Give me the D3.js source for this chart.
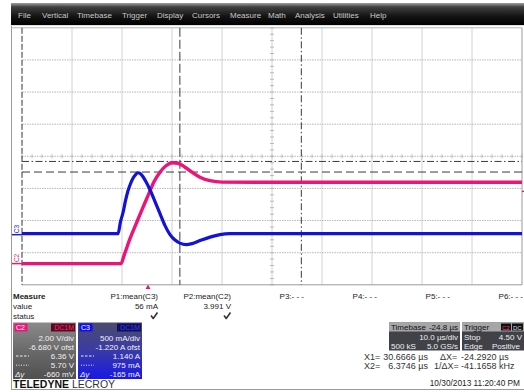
<!DOCTYPE html>
<html><head><meta charset="utf-8">
<script src="https://cdn.jsdelivr.net/npm/d3@7"></script>
<style>
body{margin:0;background:#fff;}
svg{display:block;font-family:"Liberation Sans",Arial,sans-serif;}
</style></head><body>
<svg id="scope" width="524" height="392"></svg>
<script>
// ---- acquisition data ----
// C3: current probe, amps, vs time in µs relative to trigger
const c3Time = [-25.2,-6.0,-5.5,-5.0,-4.5,-4.0,-3.5,-3.0,-2.5,-2.0,-1.5,-1.0,-0.4,0.4,1.4,2.4,3.4,4.4,5.4,6.4,7.6,8.8,10.4,12.4,14.4,16.4,74.8];
const c3Amps = [0.015,0.015,0.203,0.343,0.529,0.684,0.793,0.878,0.933,0.964,0.948,0.902,0.824,0.70,0.514,0.327,0.141,0.001,-0.084,-0.131,-0.154,-0.139,-0.092,-0.038,0.001,0.015,0.015];
// C2: output voltage, volts
const c2Time = [-25.2,-5.4,-4.8,-3.6,-2.4,-1.2,0,1.2,2.4,3.6,4.8,6.0,7.4,8.8,10.4,12.4,14.8,74.8];
const c2Volts = [0,0,0.50,1.56,2.46,3.36,4.23,5.10,5.69,6.09,6.28,6.25,6.00,5.69,5.38,5.16,5.07,5.06];

// ---- instrument settings ----
const timeDelay = -24.8;          // µs, trigger delay
const timePerDiv = 10;            // µs/div
const c2Setup = [2.0, -6.68];     // V/div, offset V
const c3Setup = [0.5, -1.22];     // A/div, offset A
const triggerLevel = 4.5;         // V on C2
const cursorTimes = [30.6666, 6.3746];   // X1, X2 in µs
const c2Cursors = [6.36, 5.70];
const c3Cursors = [1.140, 0.975];

// ---- text content ----
const menuItems = ["File","Vertical","Timebase","Trigger","Display","Cursors","Measure","Math","Analysis","Utilities","Help"];
const menuX = [18,42,77,122,157,192,230,268,295,333,370];
const paramNames = ["P1:mean(C3)","P2:mean(C2)","P3:- - -","P4:- - -","P5:- - -","P6:- - -"];
const paramValues = ["56 mA","3.991 V","","","",""];
const paramOk = [true,true,false,false,false,false];
const c2Readout = ["2.00 V/div","-6.680 V ofst","6.36 V","5.70 V","-660 mV"];
const c3Readout = ["500 mA/div","-1.220 A ofst","1.140 A","975 mA","-165 mA"];

const svg = d3.select("#scope");
const defs = svg.append("defs");

// ---- geometry / scales ----
const plotL = 22, plotR = 522, plotT = 27.8, plotB = 284.8;
const midY = (plotT + plotB) / 2;
const divH = (plotB - plotT) / 8;
const x = d3.scaleLinear()
  .domain([-timeDelay - 5*timePerDiv, -timeDelay + 5*timePerDiv])
  .range([plotL, plotR]);
function vScale(setup){
  const c = -setup[1];
  return d3.scaleLinear().domain([c - 4*setup[0], c + 4*setup[0]]).range([plotB, plotT]);
}
const yV = vScale(c2Setup);
const yA = vScale(c3Setup);

// ---- menu bar ----
const mg = defs.append("linearGradient").attr("id","menuG").attr("x1",0).attr("y1",0).attr("x2",0).attr("y2",1);
mg.append("stop").attr("offset",0).attr("stop-color","#a0a0a0");
mg.append("stop").attr("offset",0.18).attr("stop-color","#404040");
mg.append("stop").attr("offset",0.6).attr("stop-color","#141414");
mg.append("stop").attr("offset",1).attr("stop-color","#000");
svg.append("rect").attr("x",11).attr("y",3).attr("width",513).attr("height",22).attr("fill","url(#menuG)");
svg.append("g").selectAll("text").data(menuItems).join("text")
  .attr("x",(d,i)=>menuX[i]).attr("y",17.5).attr("font-size",8).attr("fill","#c8c8c8").text(d=>d);

// ---- frame ----
svg.append("line").attr("x1",11.5).attr("x2",11.5).attr("y1",25).attr("y2",389.5).attr("stroke","#9a9a9a");
svg.append("line").attr("x1",11).attr("x2",524).attr("y1",389.5).attr("y2",389.5).attr("stroke","#9a9a9a");
svg.append("line").attr("x1",11).attr("x2",524).attr("y1",25.5).attr("y2",25.5).attr("stroke","#e0e0e0");
svg.append("line").attr("x1",11).attr("x2",plotR).attr("y1",plotT).attr("y2",plotT).attr("stroke","#b4b4b4");

// ---- graticule ----
const grid = svg.append("g");
const vDivs = d3.range(1,10).map(i => x.domain()[0] + i*timePerDiv);
grid.selectAll(".vg").data(vDivs).join("line")
  .attr("x1",d=>x(d)).attr("x2",d=>x(d)).attr("y1",plotT).attr("y2",plotB)
  .attr("stroke","#d2d2d2").attr("stroke-width",1);
const hDivs = d3.range(1,8).map(i => yV.domain()[0] + i*c2Setup[0]);
grid.selectAll(".hg").data(hDivs).join("line")
  .attr("x1",plotL).attr("x2",plotR).attr("y1",d=>yV(d)).attr("y2",d=>yV(d))
  .attr("stroke","#b8b8b8").attr("stroke-dasharray","1.5,1");
// minor ticks along centre axes
const midX = x(-timeDelay);
grid.selectAll(".tx").data(d3.range(0,51)).join("line")
  .attr("x1",i=>plotL+i*10).attr("x2",i=>plotL+i*10).attr("y1",midY-2).attr("y2",midY+2)
  .attr("stroke","#b8b8b8");
grid.selectAll(".ty").data(d3.range(0,41)).join("line")
  .attr("x1",midX-2).attr("x2",midX+2).attr("y1",i=>plotT+i*divH/5).attr("y2",i=>plotT+i*divH/5)
  .attr("stroke","#b8b8b8");
// plot edges
svg.append("line").attr("x1",plotL).attr("x2",plotR).attr("y1",plotB).attr("y2",plotB).attr("stroke","#9a9a9a");
svg.append("line").attr("x1",plotR).attr("x2",plotR).attr("y1",plotT).attr("y2",plotB).attr("stroke","#9a9a9a");
svg.append("line").attr("x1",plotL).attr("x2",plotL).attr("y1",plotT).attr("y2",plotB)
  .attr("stroke","#333").attr("stroke-dasharray","6,2");

// ---- cursors ----
const cur = svg.append("g").attr("stroke","#3a3a3a").attr("stroke-width",1);
cur.append("line").attr("x1",plotL).attr("x2",plotR).attr("y1",yV(c2Cursors[0])).attr("y2",yV(c2Cursors[0]))
  .attr("stroke-dasharray","7,2.5,1.5,2.5");
cur.append("line").attr("x1",plotL).attr("x2",plotR).attr("y1",yV(c2Cursors[1])).attr("y2",yV(c2Cursors[1]))
  .attr("stroke-dasharray","8,4");
cur.append("line").attr("x1",x(cursorTimes[0])).attr("x2",x(cursorTimes[0])).attr("y1",plotT).attr("y2",plotB)
  .attr("stroke-dasharray","7,2.5,1.5,2.5");
cur.append("line").attr("x1",x(cursorTimes[1])).attr("x2",x(cursorTimes[1])).attr("y1",plotT).attr("y2",plotB)
  .attr("stroke-dasharray","9,3");

// ---- traces ----
const c3Line = d3.line().x((d,i)=>x(c3Time[i])).y(d=>yA(d)).curve(d3.curveMonotoneX);
const c2Line = d3.line().x((d,i)=>x(c2Time[i])).y(d=>yV(d)).curve(d3.curveMonotoneX);
svg.append("path").attr("d",c2Line(c2Volts)).attr("fill","none")
  .attr("stroke","#ec1478").attr("stroke-width",3.4).attr("stroke-linejoin","round");
svg.append("path").attr("d",c3Line(c3Amps)).attr("fill","none")
  .attr("stroke","#1212d8").attr("stroke-width",3.2).attr("stroke-linejoin","round");

// ground markers
function groundMark(y0, label, color){
  svg.append("line").attr("x1",12).attr("x2",plotL).attr("y1",y0).attr("y2",y0).attr("stroke",color).attr("stroke-width",1.5);
  svg.append("text").attr("transform",`translate(19,${y0-1.5}) rotate(-90)`).attr("font-size",6.5)
    .attr("fill",color).text(label);
}
groundMark(yA(0),"C3","#2020d0");
groundMark(yV(0),"C2","#e0206e");
// trigger position and level
svg.append("path").attr("d",`M${x(0)-2.5},289 L${x(0)+2.5},289 L${x(0)},284.5Z`).attr("fill","#e8147a");
svg.append("line").attr("x1",plotR).attr("x2",524).attr("y1",yV(triggerLevel)).attr("y2",yV(triggerLevel))
  .attr("stroke","#e8147a").attr("stroke-width",1.2);

// ---- measurement table ----
const mt = svg.append("g").attr("font-size",8).attr("fill","#222");
mt.append("text").attr("x",13).attr("y",299).attr("font-weight","bold").text("Measure");
mt.append("text").attr("x",13).attr("y",309).text("value");
mt.append("text").attr("x",13).attr("y",319).text("status");
paramNames.forEach((p,i)=>{
  const rx = 158 + 73*i;
  mt.append("text").attr("x",rx).attr("y",299).attr("text-anchor","end").text(p);
  if(paramValues[i]) mt.append("text").attr("x",rx).attr("y",309).attr("text-anchor","end").text(paramValues[i]);
  if(paramOk[i]) mt.append("path")
    .attr("d",`M${rx-7},315.5 L${rx-4.8},318.5 L${rx-0.5},312.5`)
    .attr("fill","none").attr("stroke","#333").attr("stroke-width",1.6).attr("stroke-linejoin","round");
});

// ---- channel descriptor boxes ----
function chanBox(x0, w, gradStops, tagColor, tagText, dcFill, dcText, lines, id){
  const g = defs.append("linearGradient").attr("id",id).attr("x1",0).attr("y1",0).attr("x2",0).attr("y2",1);
  gradStops.forEach((c,i)=>g.append("stop").attr("offset",i/(gradStops.length-1)).attr("stop-color",c));
  const b = svg.append("g");
  b.append("rect").attr("x",x0).attr("y",322.5).attr("width",w).attr("height",56.5).attr("fill",`url(#${id})`);
  b.append("rect").attr("x",x0+1.5).attr("y",323.5).attr("width",13).attr("height",8).attr("fill",tagColor);
  b.append("text").attr("x",x0+3).attr("y",330).attr("font-size",7).attr("fill","#fff").text(tagText);
  b.append("rect").attr("x",x0+w-25).attr("y",323.5).attr("width",24).attr("height",8).attr("fill",dcFill);
  b.append("text").attr("x",x0+w-2).attr("y",330).attr("text-anchor","end").attr("font-size",7).attr("fill",dcText).text("DC1M");
  lines.forEach((s,i)=>{
    b.append("text").attr("x",x0+w-2).attr("y",340.5+9.2*i).attr("text-anchor","end")
      .attr("font-size",8).attr("fill","#f2f2f2").text(s);
  });
  b.append("line").attr("x1",x0+3).attr("x2",x0+16).attr("y1",356).attr("y2",356)
    .attr("stroke","#eee").attr("stroke-dasharray","2.5,1.5");
  b.append("line").attr("x1",x0+3).attr("x2",x0+16).attr("y1",365.2).attr("y2",365.2)
    .attr("stroke","#eee").attr("stroke-dasharray","1,1.5");
  b.append("text").attr("x",x0+2).attr("y",377.3).attr("font-size",8).attr("font-style","italic")
    .attr("fill","#f2f2f2").text("\u0394y");
}
chanBox(13, 63, ["#8a8a8a","#6a6a6a","#505050"], "#e8187c", "C2", "#5a0826", "#ff2a60", c2Readout, "c2G");
chanBox(78, 64, ["#4c4c6c","#3a3aa8","#1818e8"], "#1010f0", "C3", "#10105a", "#3a3aff", c3Readout, "c3G");

// logo
const logo = svg.append("text").attr("x",13).attr("y",388).attr("font-size",10.5).attr("fill","#111");
logo.append("tspan").attr("font-weight","bold").text("TELEDYNE ");
logo.append("tspan").attr("fill","#333").text("LECROY");

// ---- timebase / trigger boxes ----
const tb = svg.append("g").attr("font-size",8);
tb.append("rect").attr("x",389).attr("y",322.5).attr("width",71).attr("height",28).attr("fill","#404248");
tb.append("rect").attr("x",389).attr("y",322.5).attr("width",71).attr("height",9).attr("fill","#a6a6a6");
tb.append("text").attr("x",391).attr("y",330).attr("fill","#111").text("Timebase");
tb.append("text").attr("x",458).attr("y",330).attr("text-anchor","end").attr("fill","#111").text(`${timeDelay.toFixed(1)} µs`);
tb.append("text").attr("x",458).attr("y",339.5).attr("text-anchor","end").attr("fill","#f0f0f0").text(`${timePerDiv.toFixed(1)} µs/div`);
tb.append("text").attr("x",391).attr("y",348.5).attr("fill","#f0f0f0").text("500 kS");
tb.append("text").attr("x",458).attr("y",348.5).attr("text-anchor","end").attr("fill","#f0f0f0").text("5.0 GS/s");

tb.append("rect").attr("x",462).attr("y",322.5).attr("width",62).attr("height",28).attr("fill","#404248");
tb.append("rect").attr("x",462).attr("y",322.5).attr("width",62).attr("height",9).attr("fill","#a6a6a6");
tb.append("text").attr("x",464).attr("y",330).attr("fill","#111").text("Trigger");
tb.append("rect").attr("x",501).attr("y",323.5).attr("width",10).attr("height",7).attr("fill","#111");
tb.append("rect").attr("x",512).attr("y",323.5).attr("width",11).attr("height",7).attr("fill","#111");
tb.append("text").attr("x",502).attr("y",329.5).attr("font-size",6).attr("fill","#ff3a80").text("C2");
tb.append("text").attr("x",513).attr("y",329.5).attr("font-size",6).attr("fill","#ddd").text("DC");
tb.append("text").attr("x",464).attr("y",339.5).attr("fill","#f0f0f0").text("Stop");
tb.append("text").attr("x",522).attr("y",339.5).attr("text-anchor","end").attr("fill","#f0f0f0").text(`${triggerLevel.toFixed(2)} V`);
tb.append("text").attr("x",464).attr("y",348.5).attr("fill","#f0f0f0").text("Edge");
tb.append("text").attr("x",492).attr("y",348.5).attr("fill","#f0f0f0").text("Positive");

// cursor readouts
const dX = cursorTimes[1] - cursorTimes[0];
const cr = svg.append("g").attr("font-size",9).attr("fill","#333");
cr.append("text").attr("x",364).attr("y",360).text("X1=");
cr.append("text").attr("x",428).attr("y",360).attr("text-anchor","end").text(`${cursorTimes[0].toFixed(4)} µs`);
cr.append("text").attr("x",440).attr("y",360).text("\u0394X=");
cr.append("text").attr("x",461).attr("y",360).text(`${dX.toFixed(4)} µs`);
cr.append("text").attr("x",364).attr("y",368.8).text("X2=");
cr.append("text").attr("x",428).attr("y",368.8).attr("text-anchor","end").text(`${cursorTimes[1].toFixed(4)} µs`);
cr.append("text").attr("x",434).attr("y",368.8).text("1/\u0394X=");
cr.append("text").attr("x",461).attr("y",368.8).text(`${(1000/dX).toFixed(4)} kHz`);
svg.append("text").attr("x",520).attr("y",385.5).attr("text-anchor","end").attr("font-size",8.3)
  .attr("fill","#222").text("10/30/2013 11:20:40 PM");
</script>
</body></html>
